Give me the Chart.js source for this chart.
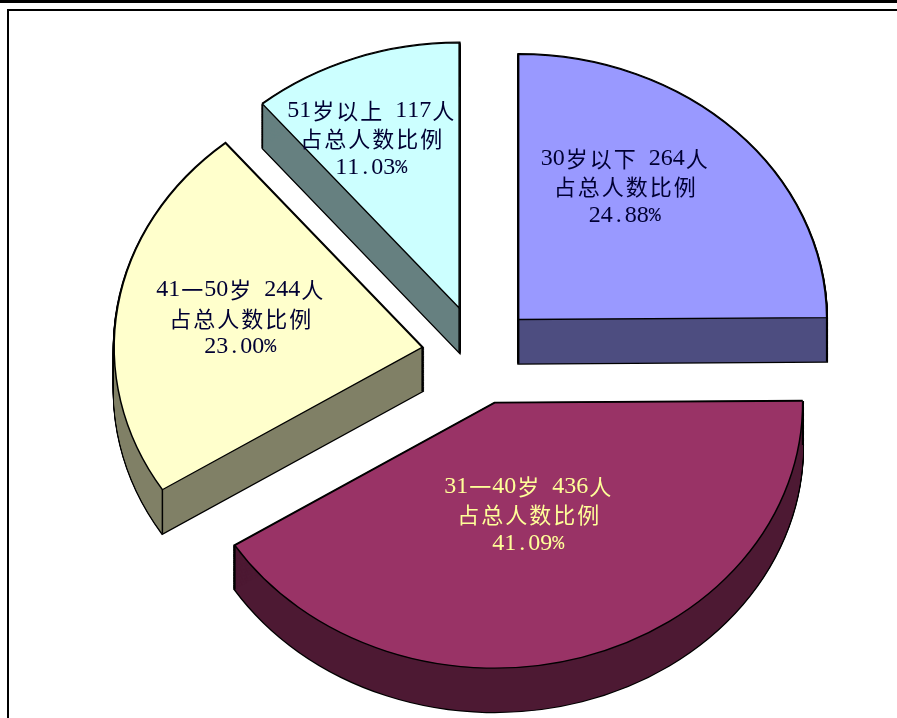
<!DOCTYPE html>
<html lang="zh">
<head>
<meta charset="utf-8">
<title>年龄结构</title>
<style>
  html, body { margin: 0; padding: 0; background: #fff; overflow: hidden; }
  #wrap { position: relative; width: 897px; height: 718px; }
  #age-chart { position: absolute; left: 0; top: 0; }
  .rule { position: absolute; background: #000; }
  #rule-top { left: 0; top: 0; width: 897px; height: 3px; }
  #rule-frame { left: 7px; top: 9px; width: 890px; height: 2px; }
  #rule-left { left: 7px; top: 9px; width: 2px; height: 709px; }
</style>
</head>
<body>
<div id="wrap">
  <div class="rule" id="rule-top"></div>
  <div class="rule" id="rule-frame"></div>
  <div class="rule" id="rule-left"></div>
  <canvas id="age-chart" width="897" height="718"></canvas>
</div>
<script src="https://cdn.jsdelivr.net/npm/chart.js@4"></script>
<script>
// Age groups, head counts and the printed shares
const categories = ["30岁以下", "31一40岁", "41一50岁", "51岁以上"];
const counts = [264, 436, 244, 117];
const shares = ["24.88%", "41.09%", "23.00%", "11.03%"];
const subtitle = "占总人数比例";

const topColors = ["#9999FF", "#993366", "#FFFFCC", "#CCFFFF"];
const sideColors = ["#4D4D80", "#4D1933", "#808066", "#668080"];
const textColors = ["#000033", "#FFFF99", "#000033", "#000033"];

const TILT = 0.861;    // vertical squash of the pie
const DEPTH = 44;      // height of the 3D side, px on screen
const EXPLODE_X = 57;  // slice pull-out along the mid angle, px on screen
const EXPLODE_Y = 50;

const midAngle = (arc) => (arc.startAngle + arc.endAngle) / 2;

function drawArcWith(ctx, arc, overrides, dy) {
  const saved = arc.options;
  const mid = midAngle(arc);
  arc.options = Object.assign({}, saved, overrides);
  ctx.save();
  ctx.translate(Math.cos(mid) * EXPLODE_X, Math.sin(mid) * EXPLODE_Y / TILT + dy);
  arc.draw(ctx);
  ctx.restore();
  arc.options = saved;
}

// ── 3D pie: extrude each arc downward, then draw the top faces ──

const tiltedPie = {
  id: "tiltedPie",
  beforeDatasetDraw(chart) {
    const { ctx } = chart;
    const arcs = chart.getDatasetMeta(0).data;
    const cy = arcs[0].y;
    const unitDepth = DEPTH / TILT;

    ctx.save();
    ctx.translate(0, cy);
    ctx.scale(1, TILT);
    ctx.translate(0, -cy);

    arcs.forEach((arc, i) => {
      for (let d = 0; d <= unitDepth; d += 1) {
        drawArcWith(ctx, arc, { backgroundColor: "#000", borderColor: "#000", borderWidth: 2.8 }, d);
      }
      for (let d = 0; d <= unitDepth; d += 1) {
        drawArcWith(ctx, arc, { backgroundColor: sideColors[i], borderWidth: 0 }, d);
      }

      // vertical edges at the apex and the two rim corners
      const mid = midAngle(arc);
      const ox = arc.x + Math.cos(mid) * EXPLODE_X;
      const oy = arc.y + Math.sin(mid) * EXPLODE_Y / TILT;
      const r = arc.outerRadius;
      const corners = [
        [ox, oy],
        [ox + Math.cos(arc.startAngle) * r, oy + Math.sin(arc.startAngle) * r],
        [ox + Math.cos(arc.endAngle) * r, oy + Math.sin(arc.endAngle) * r],
      ];
      ctx.strokeStyle = "#000";
      ctx.lineWidth = 1.5;
      corners.forEach(([x, y]) => {
        ctx.beginPath();
        ctx.moveTo(x, y);
        ctx.lineTo(x, y + unitDepth);
        ctx.stroke();
      });
    });

    arcs.forEach((arc) => drawArcWith(ctx, arc, {}, 0));
    ctx.restore();
    return false;
  },
};

// ── Labels: CJK cells are 24px wide, latin cells 12px ──

function isWide(ch) {
  return ch.charCodeAt(0) > 255;
}

function fontFor(ch) {
  if (isWide(ch)) return '22px "Noto Sans CJK SC"';
  if (ch === "%") return '20px "Liberation Mono"';
  return '24px "Liberation Serif"';
}

function drawLine(ctx, text, cx, cy) {
  const chars = [...text];
  const width = chars.reduce((s, ch) => s + (isWide(ch) ? 24 : 12), 0);
  let x = cx - width / 2;
  chars.forEach((ch) => {
    const cell = isWide(ch) ? 24 : 12;
    ctx.font = fontFor(ch);
    ctx.fillText(ch, x + cell / 2, cy);
    x += cell;
  });
}

const sliceLabels = {
  id: "sliceLabels",
  afterDraw(chart, args, opts) {
    const { ctx } = chart;
    const arcs = chart.getDatasetMeta(0).data;
    ctx.save();
    ctx.textAlign = "center";
    ctx.textBaseline = "middle";
    arcs.forEach((arc, i) => {
      const mid = midAngle(arc);
      const apexX = arc.x + Math.cos(mid) * EXPLODE_X;
      const apexY = arc.y + Math.sin(mid) * EXPLODE_Y;
      const [dx, dy] = opts.shift[i];
      const lines = [`${categories[i]} ${counts[i]}人`, subtitle, shares[i]];
      ctx.fillStyle = textColors[i];
      lines.forEach((line, n) => {
        drawLine(ctx, line, apexX + dx, apexY + dy + (n - 1) * 28.5);
      });
    });
    ctx.restore();
  },
};

new Chart(document.getElementById("age-chart"), {
  type: "pie",
  data: {
    labels: categories,
    datasets: [
      {
        data: counts,
        backgroundColor: topColors,
        borderColor: "#000",
        borderWidth: 1.5,
        borderJoinStyle: "miter",
        radius: 308,
        clip: false,
      },
    ],
  },
  options: {
    responsive: false,
    animation: false,
    layout: { padding: { left: 60, bottom: 8 } },
    events: [],
    plugins: {
      legend: { display: false },
      tooltip: { enabled: false },
      sliceLabels: { shift: [[106, -132.5], [33.5, 112], [-182, -29], [-88, -169]] },
    },
  },
  plugins: [tiltedPie, sliceLabels],
});
</script>
</body>
</html>
